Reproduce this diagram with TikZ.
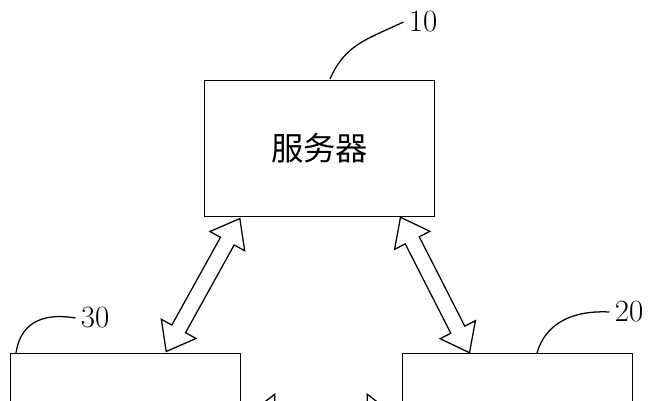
\documentclass[tikz,border=0pt]{standalone}
\usepackage{fontspec}
\newfontfamily\cjk{Noto Sans CJK SC}
\usetikzlibrary{shapes.arrows}
\begin{document}
\begin{tikzpicture}[x=0.25mm,y=-0.25mm,line width=0.9pt,
  box/.style={draw,minimum width=57.5mm,minimum height=34mm,anchor=north west,inner sep=0pt},
  link/.style={draw,double arrow,minimum height=38mm,inner xsep=0pt,inner ysep=1.8mm,
    double arrow head extend=3mm,double arrow tip angle=75},
  num/.style={font=\fontsize{22}{22}\selectfont}]
 \clip (0,0) rectangle (654,400);

 \node[box] (srv) at (204,80) {\cjk\fontsize{23}{23}\selectfont 服务器};
 \node[box] (c30) at (10,353) {};
 \node[box] (c20) at (402,353) {};

 \node[num] (n10) at (423,22) {10};
 \node[num] (n30) at (95,318) {30};
 \node[num] (n20) at (629,312) {20};

 \coordinate (t10) at (330,79);
 \coordinate (t30) at (16,353);
 \coordinate (t20) at (537,353);
 \draw (t10) .. controls (345,45) and (365,40) .. (n10.west);
 \draw (t30) .. controls (20,325) and (40,312) .. (n30.west);
 \draw (t20) .. controls (545,325) and (570,310) .. (n20.west);

 \node[link,rotate=61] (a1) at (203,285) {};
 \node[link,rotate=117] (a2) at (435,285) {};
 \node[link,minimum height=36mm] (a3) at (321,414) {};
\end{tikzpicture}
\end{document}
